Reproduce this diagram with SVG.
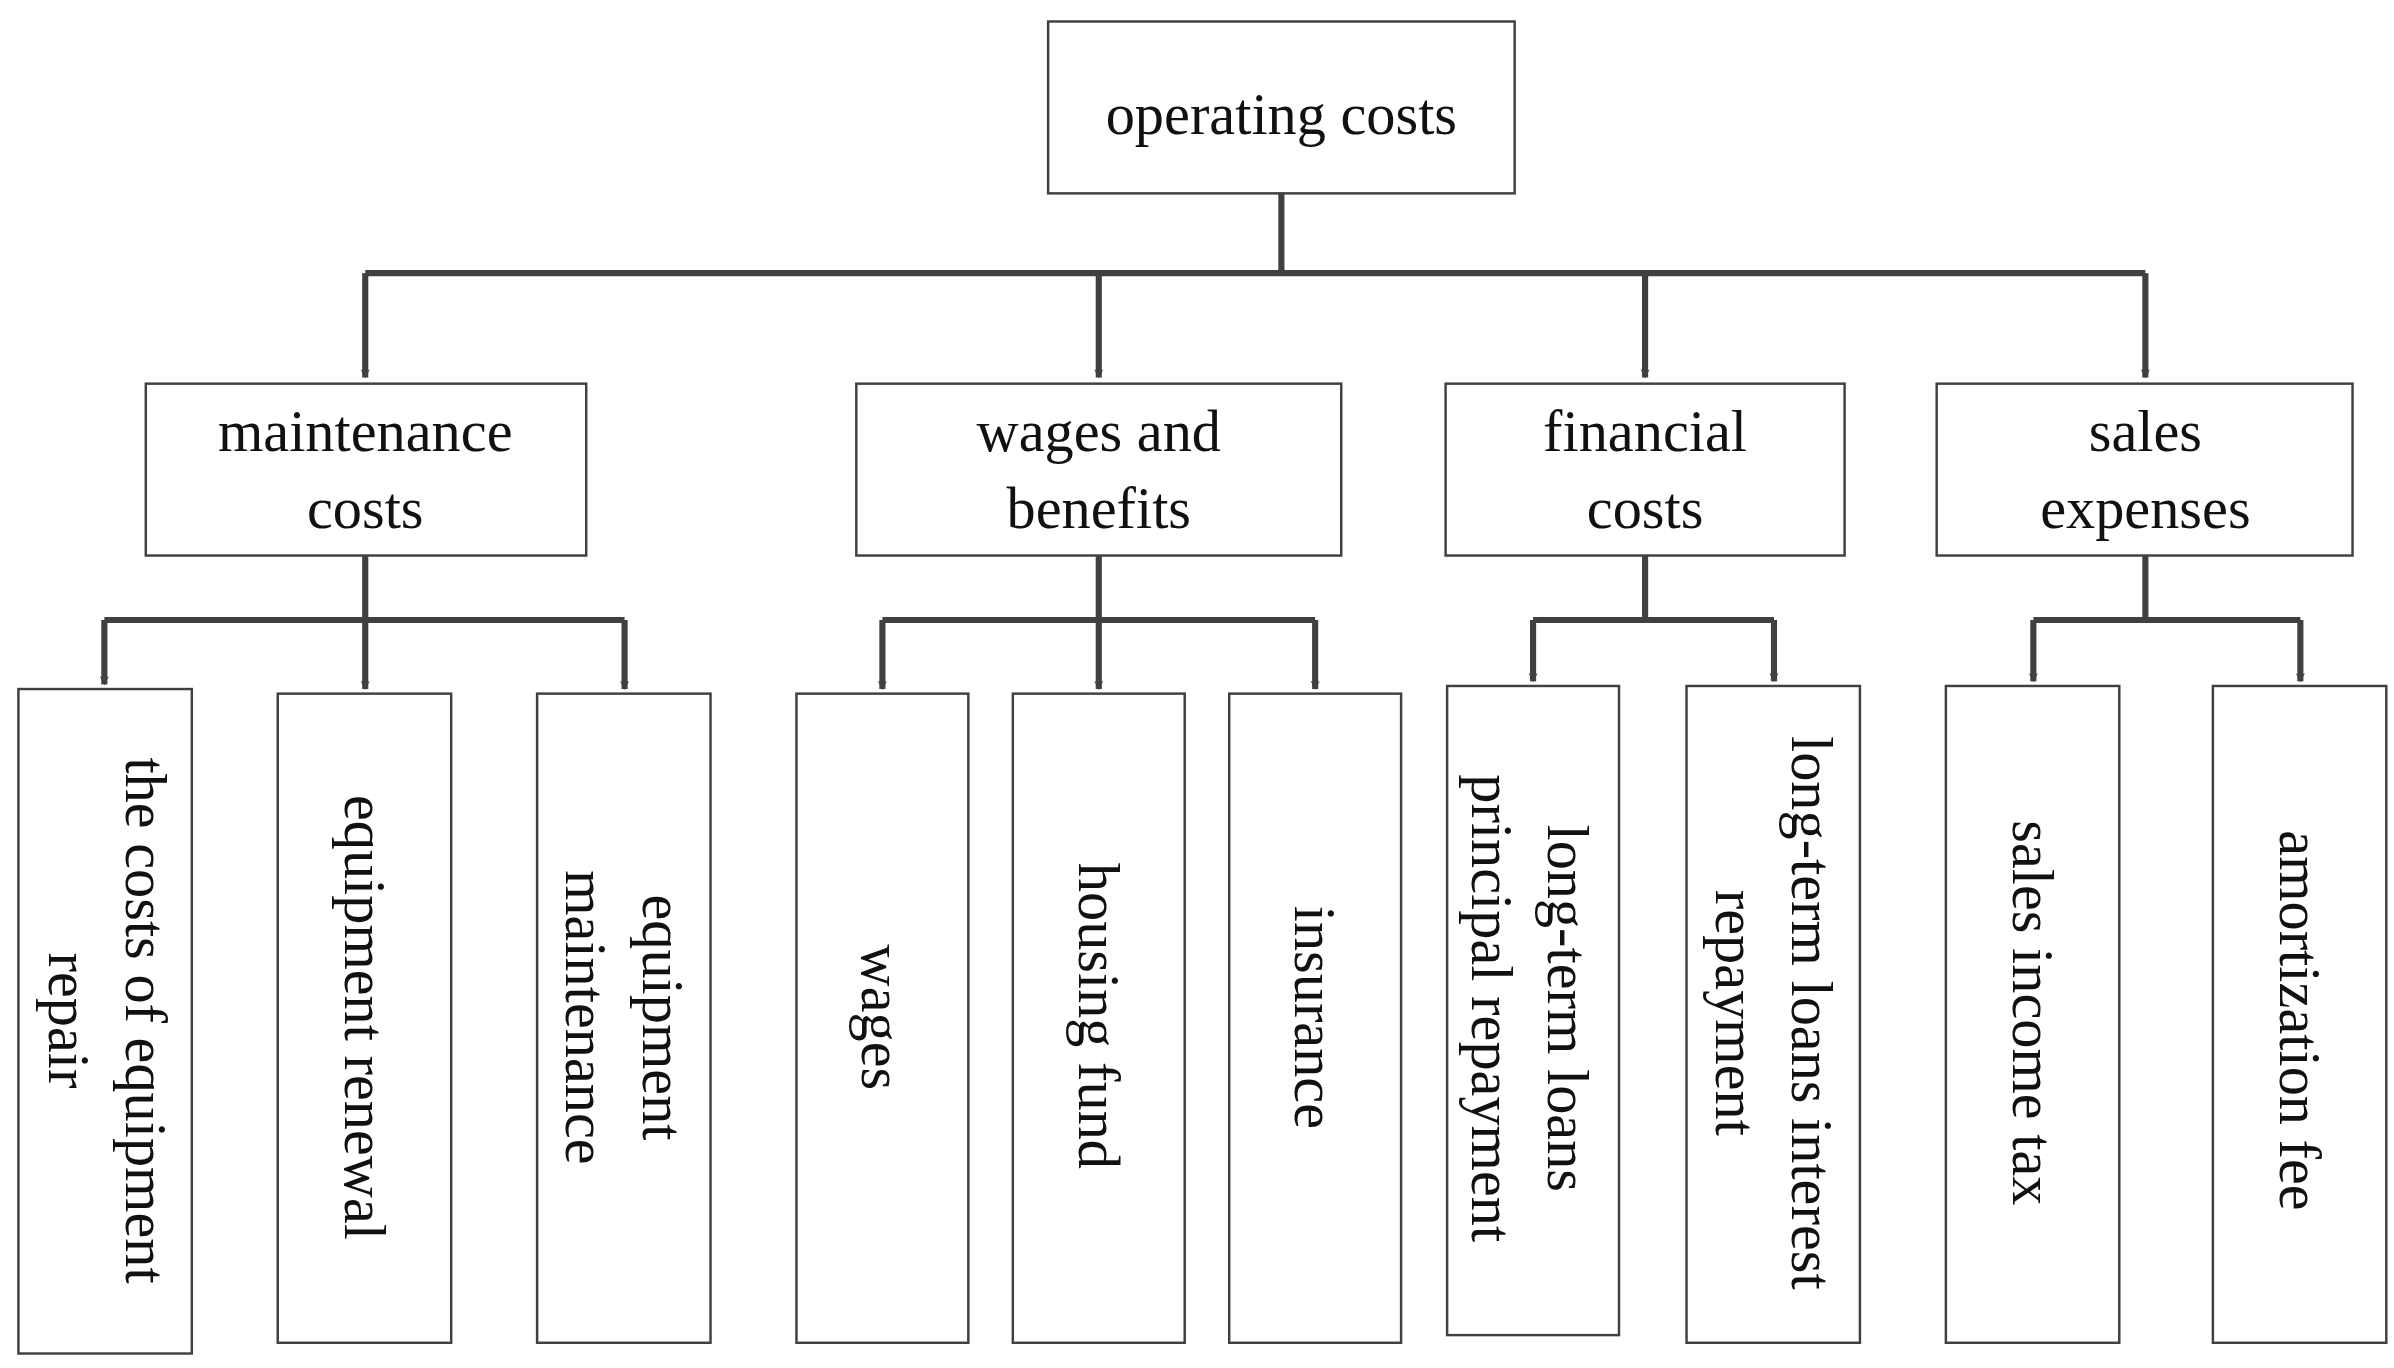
<svg xmlns="http://www.w3.org/2000/svg" width="2394" height="1368" viewBox="0 0 2394 1368">
<style>
.b{fill:#fff;stroke:#404040;stroke-width:1.6}
.t{font-family:"Liberation Serif",serif;font-size:38px;fill:#111;text-anchor:middle}
.c{fill:none;stroke:#404040;stroke-width:4}
</style>
<defs>
<marker id="a" viewBox="0 0 10 10" refX="9" refY="5" markerWidth="6" markerHeight="6" markerUnits="userSpaceOnUse" orient="auto">
<path d="M0,0 L10,5 L0,10 L3,5 Z" fill="#404040"/>
</marker>
</defs>
<rect width="2394" height="1368" fill="#fff"/>
<g transform="scale(1.5346)">
<g id="connectors">
<path class="c" d="M835,126 V178 M238,178 H1398"/>
<path class="c" d="M238,178 V246" marker-end="url(#a)"/>
<path class="c" d="M716,178 V246" marker-end="url(#a)"/>
<path class="c" d="M1072,178 V246" marker-end="url(#a)"/>
<path class="c" d="M1398,178 V246" marker-end="url(#a)"/>
<path class="c" d="M238,362 V404 M68,404 H407 M716,362 V404 M575,404 H857 M1072,362 V404 M999,404 H1156 M1398,362 V404 M1325,404 H1499"/>
<path class="c" d="M68,404 V446" marker-end="url(#a)"/>
<path class="c" d="M238,404 V449" marker-end="url(#a)"/>
<path class="c" d="M407,404 V449" marker-end="url(#a)"/>
<path class="c" d="M575,404 V449" marker-end="url(#a)"/>
<path class="c" d="M716,404 V449" marker-end="url(#a)"/>
<path class="c" d="M857,404 V449" marker-end="url(#a)"/>
<path class="c" d="M999,404 V444" marker-end="url(#a)"/>
<path class="c" d="M1156,404 V444" marker-end="url(#a)"/>
<path class="c" d="M1325,404 V444" marker-end="url(#a)"/>
<path class="c" d="M1499,404 V444" marker-end="url(#a)"/>
</g>
<g id="root"><rect class="b" x="683" y="14" width="304" height="112"/><text class="t" x="835" y="87">operating costs</text></g>
<g id="maint"><rect class="b" x="95" y="250" width="287" height="112"/><text class="t" x="238" y="294">maintenance</text><text class="t" x="238" y="344">costs</text></g>
<g id="wagesb"><rect class="b" x="558" y="250" width="316" height="112"/><text class="t" x="716" y="294">wages and</text><text class="t" x="716" y="344">benefits</text></g>
<g id="fin"><rect class="b" x="942" y="250" width="260" height="112"/><text class="t" x="1072" y="294">financial</text><text class="t" x="1072" y="344">costs</text></g>
<g id="sales"><rect class="b" x="1262" y="250" width="271" height="112"/><text class="t" x="1398" y="294">sales</text><text class="t" x="1398" y="344">expenses</text></g>
<g id="l1"><rect class="b" x="12" y="449" width="113" height="433"/><text class="t" transform="translate(70,665) rotate(90)"><tspan x="0" y="-12">the costs of equipment</tspan><tspan x="0" y="38">repair</tspan></text></g>
<g id="l2"><rect class="b" x="181" y="452" width="113" height="423"/><text class="t" transform="translate(238,663) rotate(90)" y="13">equipment renewal</text></g>
<g id="l3"><rect class="b" x="350" y="452" width="113" height="423"/><text class="t" transform="translate(407,663) rotate(90)"><tspan x="0" y="-12">equipment</tspan><tspan x="0" y="38">maintenance</tspan></text></g>
<g id="l4"><rect class="b" x="519" y="452" width="112" height="423"/><text class="t" transform="translate(575,663) rotate(90)" y="13">wages</text></g>
<g id="l5"><rect class="b" x="660" y="452" width="112" height="423"/><text class="t" transform="translate(716,662) rotate(90)" y="13">housing fund</text></g>
<g id="l6"><rect class="b" x="801" y="452" width="112" height="423"/><text class="t" transform="translate(857,663) rotate(90)" y="13">insurance</text></g>
<g id="l7"><rect class="b" x="943" y="447" width="112" height="423"/><text class="t" transform="translate(997,657) rotate(90)"><tspan x="0" y="-12">long-term loans</tspan><tspan x="0" y="38">principal repayment</tspan></text></g>
<g id="l8"><rect class="b" x="1099" y="447" width="113" height="428"/><text class="t" transform="translate(1156,660) rotate(90)"><tspan x="0" y="-12">long-term loans interest</tspan><tspan x="0" y="38">repayment</tspan></text></g>
<g id="l9"><rect class="b" x="1268" y="447" width="113" height="428"/><text class="t" transform="translate(1325,660) rotate(90)" y="13">sales income tax</text></g>
<g id="l10"><rect class="b" x="1442" y="447" width="113" height="428"/><text class="t" transform="translate(1499,665) rotate(90)" y="13">amortization fee</text></g>
</g>
</svg>
